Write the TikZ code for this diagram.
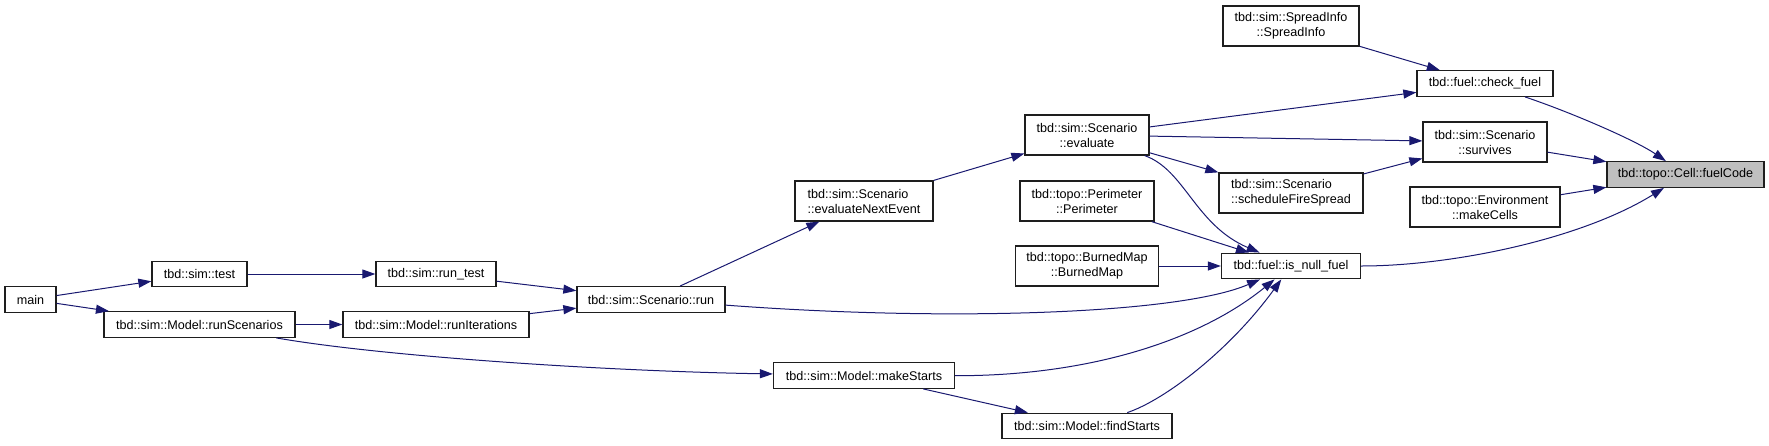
\documentclass[tikz,border=0pt]{standalone}
\usepackage{fontspec}
\setmainfont{Liberation Sans}
\usepackage{tikz}
\usetikzlibrary{arrows.meta,positioning}

\definecolor{callblue}{RGB}{25,25,112}
\definecolor{boxline}{RGB}{30,30,30}
\definecolor{curfill}{RGB}{191,191,191}

\begin{document}
\begin{tikzpicture}[
    x=1pt, y=1pt, on grid,
    fn/.style={rectangle, draw=boxline, line width=1.3pt, fill=white, inner sep=0pt,
               minimum height=25.5pt, align=center, font=\fontsize{12.6}{15}\selectfont},
    fntwo/.style={fn, minimum height=40pt},
    current/.style={fn, fill=curfill},
    call/.style={-{Triangle[length=13pt, width=9pt]}, line width=1pt, draw=callblue}
  ]
    \useasboundingbox (0,0) rectangle (1769,-445);

    % callers, left to right
    \node[fn, minimum width=51pt] (main) at (30.5,-299.5) {main};
    \node[fn, minimum width=95pt, above right=25.5pt and 169pt of main] (test) {tbd::sim::test};
    \node[fn, minimum width=191pt, below=50.5pt of test] (runscen) {tbd::sim::Model::runScenarios};
    \node[fn, minimum width=120pt, right=236.5pt of test] (runtest) {tbd::sim::run\_test};
    \node[fn, minimum width=186pt, right=236.5pt of runscen] (runiter) {tbd::sim::Model::runIterations};
    \node[fn, minimum width=148pt, below right=25.5pt and 215pt of runtest] (run) {tbd::sim::Scenario::run};
    \node[fntwo, minimum width=138pt, align=left, above right=98.5pt and 213pt of run] (evalnext)
      {tbd::sim::Scenario\\::evaluateNextEvent};
    \node[fn, minimum width=181pt, below=174.5pt of evalnext] (makestarts) {tbd::sim::Model::makeStarts};
    \node[fntwo, minimum width=124pt, above right=66pt and 223pt of evalnext] (evaluate)
      {tbd::sim::Scenario\\::evaluate};
    \node[fntwo, minimum width=134pt, below=66pt of evaluate] (perimeter) {tbd::topo::Perimeter\\::Perimeter};
    \node[fntwo, minimum width=143pt, below=65pt of perimeter] (burnedmap) {tbd::topo::BurnedMap\\::BurnedMap};
    \node[fn, minimum width=170pt, below=160pt of burnedmap] (findstarts) {tbd::sim::Model::findStarts};
    \node[fn, minimum width=139pt, right=204pt of burnedmap] (isnull) {tbd::fuel::is\_null\_fuel};
    \node[fntwo, minimum width=144pt, align=left, above=73pt of isnull] (schedule)
      {tbd::sim::Scenario\\::scheduleFireSpread};
    \node[fntwo, minimum width=136pt, above=167pt of schedule] (spreadinfo) {tbd::sim::SpreadInfo\\::SpreadInfo};
    \node[fntwo, minimum width=124pt, above right=124pt and 194pt of isnull] (survives)
      {tbd::sim::Scenario\\::survives};
    \node[fn, minimum width=136pt, above=58.5pt of survives] (checkfuel) {tbd::fuel::check\_fuel};
    \node[fntwo, minimum width=150pt, below=65pt of survives] (makecells) {tbd::topo::Environment\\::makeCells};
    \node[current, minimum width=157pt, above right=32.5pt and 200.5pt of makecells] (fuelcode)
      {tbd::topo::Cell::fuelCode};

    % straight calls
    \foreach \a/\b in {main/test, main/runscen, test/runtest, runscen/runiter, runtest/run,
                       runiter/run, run/evalnext, evalnext/evaluate, evaluate/checkfuel,
                       evaluate/survives, evaluate/schedule, schedule/survives,
                       spreadinfo/checkfuel, perimeter/isnull, burnedmap/isnull,
                       makestarts/findstarts, survives/fuelcode, makecells/fuelcode}
      \draw[call] (\a) -- (\b);

    % curved calls
    \draw[call] (runscen) .. controls (380,-356) and (600,-371) .. (makestarts);
    \draw[call] (run) .. controls (950,-322) and (1180,-314) .. (isnull);
    \draw[call] (evaluate) .. controls (1185,-170) and (1195,-225) .. (isnull);
    \draw[call] (makestarts) .. controls (1090,-376) and (1200,-340) .. (isnull);
    \draw[call] (findstarts) .. controls (1165,-400) and (1230,-350) .. (isnull);
    \draw[call] (isnull) .. controls (1450,-266) and (1580,-240) .. (fuelcode);
    \draw[call] (checkfuel) .. controls (1570,-112) and (1635,-140) .. (fuelcode);
\end{tikzpicture}
\end{document}
